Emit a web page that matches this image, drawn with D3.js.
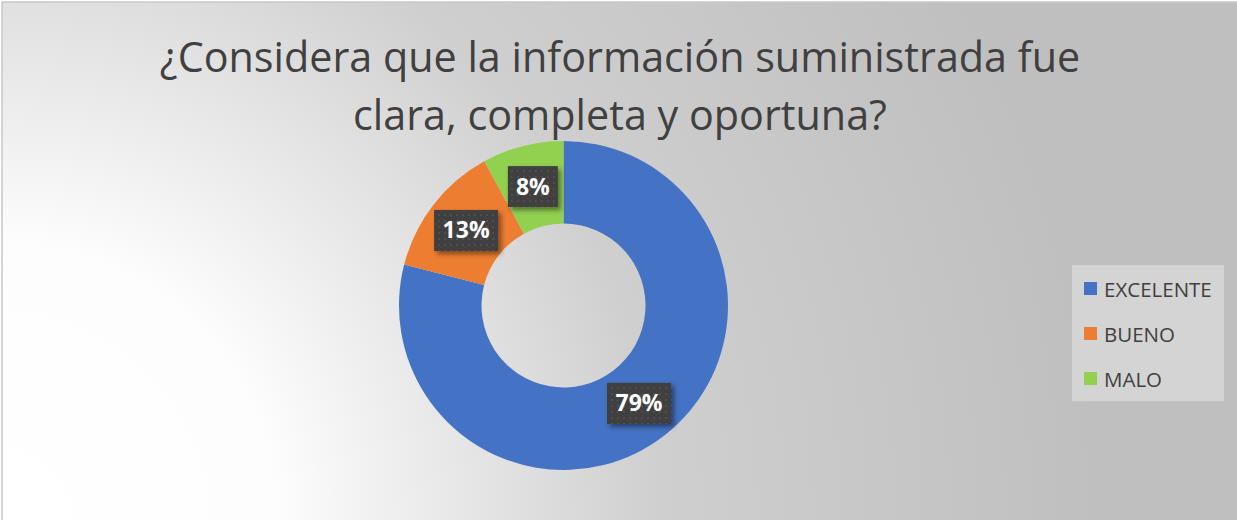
<!DOCTYPE html>
<html>
<head>
<meta charset="utf-8">
<script src="https://cdn.jsdelivr.net/npm/d3@7"></script>
<style>
  body { margin: 0; background: #fff; }
  svg { display: block; }
</style>
</head>
<body>
<div id="chart"></div>
<script>
// data
const categories = ['EXCELENTE', 'BUENO', 'MALO'];
const values = [79, 13, 8];
const colors = ['#4472C4', '#ED7D31', '#92D050'];
const titleLines = ['¿Considera que la información suministrada fue', 'clara, completa y oportuna?'];

const width = 1237, height = 520;
const cx = 563.5, cy = 305.5, outerR = 164.5, innerR = 82;

const svg = d3.select('#chart').append('svg')
    .attr('width', width)
    .attr('height', height);

const defs = svg.append('defs');

// background: light at bottom-left, gray toward top-right
const bg = defs.append('radialGradient')
    .attr('id', 'bg')
    .attr('gradientUnits', 'userSpaceOnUse')
    .attr('cx', 0).attr('cy', height)
    .attr('r', 1100);
bg.append('stop').attr('offset', '0%').attr('stop-color', '#ffffff');
bg.append('stop').attr('offset', '25%').attr('stop-color', '#fdfdfd');
bg.append('stop').attr('offset', '60%').attr('stop-color', '#cfcfcf');
bg.append('stop').attr('offset', '100%').attr('stop-color', '#bfbfbf');

// dotted texture for the label boxes
const pat = defs.append('pattern')
    .attr('id', 'dots')
    .attr('patternUnits', 'userSpaceOnUse')
    .attr('width', 6).attr('height', 6);
pat.append('rect').attr('width', 6).attr('height', 6).attr('fill', '#3f3f3f');
pat.append('circle').attr('cx', 3).attr('cy', 3).attr('r', 1).attr('fill', '#555555');

const shadow = defs.append('filter')
    .attr('id', 'shadow')
    .attr('x', '-30%').attr('y', '-30%')
    .attr('width', '160%').attr('height', '160%');
shadow.append('feDropShadow')
    .attr('dx', 3).attr('dy', 3)
    .attr('stdDeviation', 2.5)
    .attr('flood-color', '#000')
    .attr('flood-opacity', 0.45);

svg.append('rect')
    .attr('x', 2).attr('y', 2)
    .attr('width', width).attr('height', height)
    .attr('fill', 'url(#bg)')
    .attr('stroke', '#c8c8c8')
    .attr('stroke-width', 1.5);

// title
svg.append('g')
    .selectAll('text')
    .data(titleLines)
    .join('text')
    .attr('x', 620)
    .attr('y', (d, i) => 72 + i * 58)
    .attr('text-anchor', 'middle')
    .attr('font-family', 'Open Sans, sans-serif')
    .attr('font-size', 41.3)
    .attr('fill', '#404040')
    .text(d => d);

// donut
const pie = d3.pie().sort(null).value(d => d);
const arcs = pie(values);
const arc = d3.arc().innerRadius(innerR).outerRadius(outerR);
const labelArc = d3.arc().innerRadius((innerR + outerR) / 2).outerRadius((innerR + outerR) / 2);

const g = svg.append('g')
    .attr('transform', 'translate(' + cx + ',' + cy + ')');

g.selectAll('path')
    .data(arcs)
    .join('path')
    .attr('d', arc)
    .attr('fill', (d, i) => colors[i]);

const total = d3.sum(values);
const labels = g.selectAll('.lbl')
    .data(arcs)
    .join('g')
    .attr('class', 'lbl')
    .attr('transform', d => 'translate(' + labelArc.centroid(d) + ')');

labels.append('rect')
    .attr('x', d => d.data >= 10 ? -32 : -25)
    .attr('y', -20)
    .attr('width', d => d.data >= 10 ? 64 : 50)
    .attr('height', 41)
    .attr('fill', 'url(#dots)')
    .attr('filter', 'url(#shadow)');

labels.append('text')
    .attr('text-anchor', 'middle')
    .attr('dy', 8.5)
    .attr('font-family', 'Open Sans, sans-serif')
    .attr('font-weight', 'bold')
    .attr('font-size', 23)
    .attr('fill', '#ffffff')
    .text(d => Math.round(d.data / total * 100) + '%');

// legend
const legend = svg.append('g')
    .attr('transform', 'translate(1072,265)');
legend.append('rect')
    .attr('width', 152).attr('height', 136)
    .attr('fill', '#d4d4d4');

const items = legend.selectAll('.item')
    .data(categories)
    .join('g')
    .attr('class', 'item')
    .attr('transform', (d, i) => 'translate(12,' + (24 + i * 45) + ')');
items.append('rect')
    .attr('x', 0).attr('y', -7)
    .attr('width', 13).attr('height', 13)
    .attr('fill', (d, i) => colors[i]);
items.append('text')
    .attr('x', 20)
    .attr('y', 7.5)
    .attr('font-family', 'Open Sans, sans-serif')
    .attr('font-size', 20.5)
    .attr('fill', '#404040')
    .text(d => d);
</script>
</body>
</html>
